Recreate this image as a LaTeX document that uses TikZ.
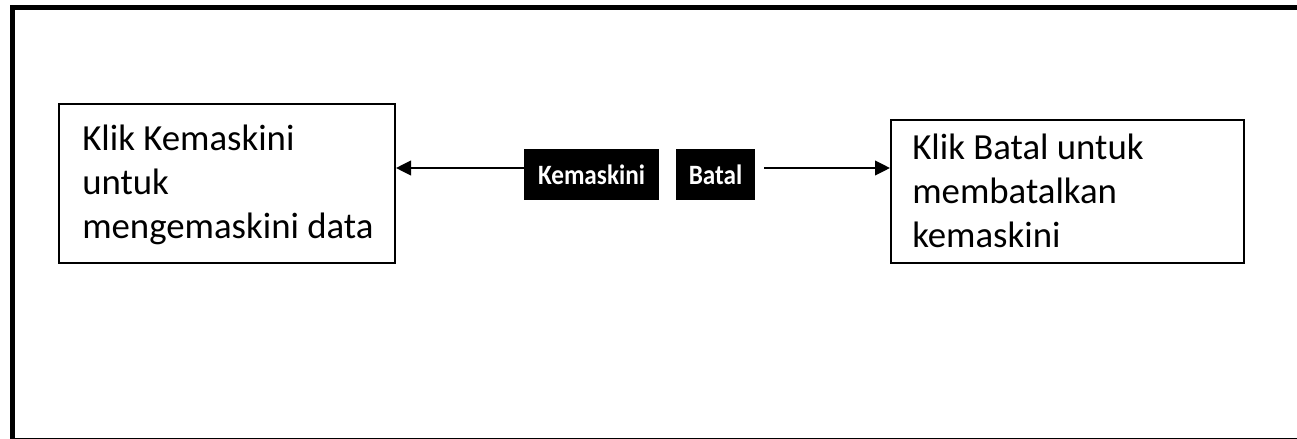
\documentclass[tikz,border=0pt]{standalone}
\usepackage{fontspec}
\setmainfont{Carlito}
\newfontfamily\btnfont[FakeStretch=0.9]{Carlito}
\usetikzlibrary{arrows.meta}
\tikzset{
  frame/.style={draw=black, line width=3.75pt},
  infobox/.style={draw=black, line width=1.5pt, inner sep=0pt, fill=white},
  infotext/.style={anchor=base west, inner sep=0pt, align=left,
    font=\fontsize{27.6}{33}\selectfont},
  button/.style={fill=black, text=white, inner sep=0pt, minimum height=38.25pt,
    font=\btnfont\fontsize{21}{24}\selectfont\bfseries},
  arr/.style={draw=black, line width=1.5pt, -{Triangle[length=11.25pt, width=11pt]}}
}
\begin{document}
\begin{tikzpicture}[x=0.75pt, y=-0.75pt]
  \clip (0,0) rectangle (1297,439);
  \fill[white] (0,0) rectangle (1297,439);
  % outer frame (runs past the right and bottom page edges)
  \draw[frame] (12,7.5) rectangle (1302,440.5);

  % explanation boxes
  \node[infobox, minimum width=252pt, minimum height=119.25pt] (lbox) at (227,183.5) {};
  \node[infobox, minimum width=264.75pt, minimum height=107.25pt] (rbox) at (1067.5,191.5) {};
  % text nodes are placed by the baseline of their last line
  \node[infotext] (ltext) at (82,238) {Klik Kemaskini\\untuk\\mengemaskini data};
  \node[infotext] (rtext) at (912,247) {Klik Batal untuk\\membatalkan\\kemaskini};

  % buttons
  \node[button, minimum width=101.25pt] (kem) at (591.5,174.5) {Kemaskini};
  \node[button, minimum width=59.25pt] (batal) at (715.5,174.5) {Batal};

  % connectors
  \coordinate (rstart) at (764,168);
  \draw[arr] (kem.west |- rstart) -- (lbox.east |- rstart);
  \draw[arr] (rstart) -- (rbox.west |- rstart);
\end{tikzpicture}
\end{document}
